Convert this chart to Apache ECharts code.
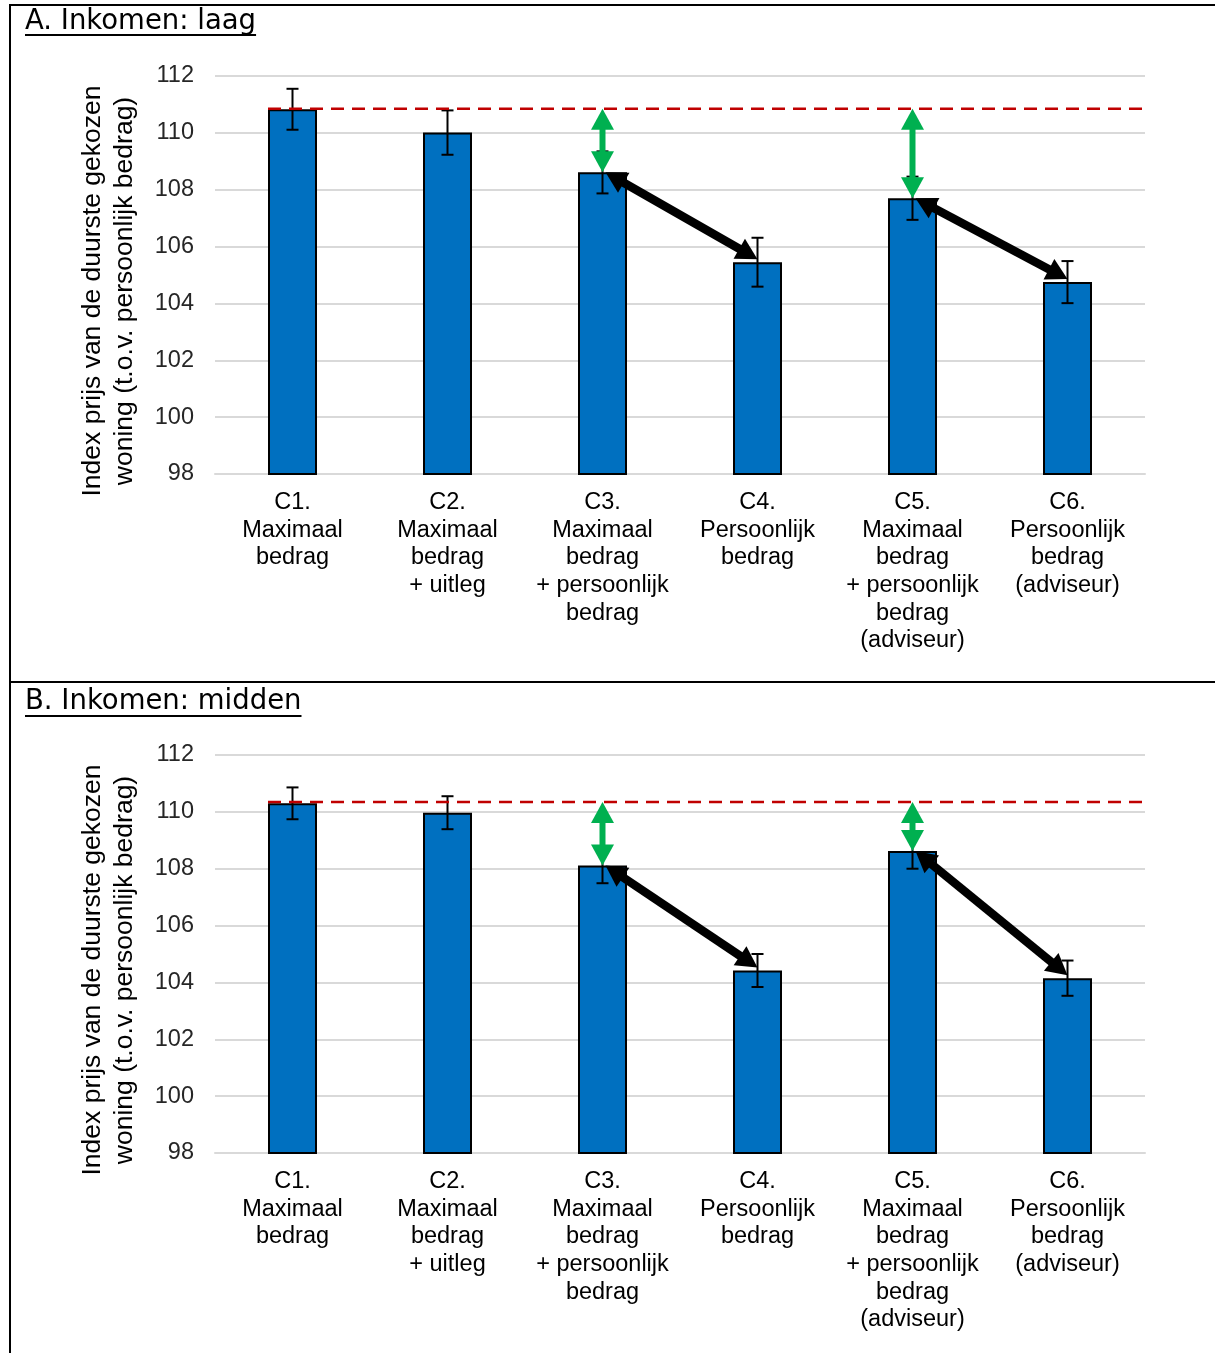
<!DOCTYPE html>
<html><head><meta charset="utf-8">
<script src="https://cdn.jsdelivr.net/npm/echarts/dist/echarts.min.js"></script>
<style>html,body{margin:0;padding:0;background:#fff}#c{width:1215px;height:1353px}</style>
</head><body><div id="c"></div>
<script>
// ---------- data ----------
const categories = [
  'C1.\nMaximaal\nbedrag',
  'C2.\nMaximaal\nbedrag\n+ uitleg',
  'C3.\nMaximaal\nbedrag\n+ persoonlijk\nbedrag',
  'C4.\nPersoonlijk\nbedrag',
  'C5.\nMaximaal\nbedrag\n+ persoonlijk\nbedrag\n(adviseur)',
  'C6.\nPersoonlijk\nbedrag\n(adviseur)'
];
const lowValues = [110.83, 110.01, 108.61, 105.45, 107.70, 104.75];
const lowErrors = [0.72, 0.78, 0.74, 0.86, 0.76, 0.74];
const lowReference = 110.85;
const midValues = [110.30, 109.97, 108.11, 104.42, 108.62, 104.15];
const midErrors = [0.56, 0.58, 0.62, 0.58, 0.62, 0.62];
const midReference = 110.35;
const yMin = 98, yMax = 112, yStep = 2;
const greenArrowCats = [2, 4];
const blackArrowPairs = [[2, 3], [4, 5]];
const panelTitles = ['A. Inkomen: laag', 'B. Inkomen: midden'];
const yAxisName = 'Index prijs van de duurste gekozen\nwoning (t.o.v. persoonlijk bedrag)';

// ---------- helpers ----------
const BAR_W = 49;
function doubleArrow(x1, y1, x2, y2, shaftW, headL, headW, color) {
  const dx = x2 - x1, dy = y2 - y1, L = Math.hypot(dx, dy);
  const ux = dx / L, uy = dy / L, px = -uy, py = ux;
  const b1 = [x1 + ux * headL, y1 + uy * headL];
  const b2 = [x2 - ux * headL, y2 - uy * headL];
  const h = headW / 2;
  return [
    {type: 'line', shape: {x1: b1[0] - ux, y1: b1[1] - uy, x2: b2[0] + ux, y2: b2[1] + uy},
     style: {stroke: color, lineWidth: shaftW}},
    {type: 'polygon', shape: {points: [[x1, y1], [b1[0] + px * h, b1[1] + py * h], [b1[0] - px * h, b1[1] - py * h]]},
     style: {fill: color}},
    {type: 'polygon', shape: {points: [[x2, y2], [b2[0] + px * h, b2[1] + py * h], [b2[0] - px * h, b2[1] - py * h]]},
     style: {fill: color}}
  ];
}

function panelSeries(idx, vals, errs, ref) {
  return [
    {type: 'bar', xAxisIndex: idx, yAxisIndex: idx, data: vals, barWidth: BAR_W, silent: true,
     itemStyle: {color: '#0070C0', borderColor: '#000', borderWidth: 2}, z: 2},
    {type: 'custom', xAxisIndex: idx, yAxisIndex: idx, silent: true, z: 5,
     data: vals.map((v, i) => [i, v - errs[i], v + errs[i]]),
     renderItem(params, api) {
       const lo = api.coord([api.value(0), api.value(1)]);
       const hi = api.coord([api.value(0), api.value(2)]);
       const w = 6, st = {stroke: '#000', lineWidth: 2};
       return {type: 'group', children: [
         {type: 'line', shape: {x1: lo[0], y1: lo[1], x2: hi[0], y2: hi[1]}, style: st},
         {type: 'line', shape: {x1: lo[0] - w, y1: lo[1], x2: lo[0] + w, y2: lo[1]}, style: st},
         {type: 'line', shape: {x1: hi[0] - w, y1: hi[1], x2: hi[0] + w, y2: hi[1]}, style: st}
       ]};
     }},
    {type: 'custom', xAxisIndex: idx, yAxisIndex: idx, silent: true, z: 6,
     data: [[0, ref]],
     renderItem(params, api) {
       const p = api.coord([api.value(0), api.value(1)]);
       const right = params.coordSys.x + params.coordSys.width + 4;
       return {type: 'line', shape: {x1: p[0] - BAR_W / 2, y1: p[1], x2: right, y2: p[1]},
               style: {stroke: '#C00000', lineWidth: 2.5, lineDash: [13, 8]}};
     }},
    {type: 'custom', xAxisIndex: idx, yAxisIndex: idx, silent: true, z: 7,
     data: greenArrowCats.map(i => [i, ref, vals[i]]),
     renderItem(params, api) {
       const a = api.coord([api.value(0), api.value(1)]);
       const b = api.coord([api.value(0), api.value(2)]);
       return {type: 'group', children: doubleArrow(a[0], a[1], b[0], b[1], 6, 21, 23, '#00B050')};
     }},
    {type: 'custom', xAxisIndex: idx, yAxisIndex: idx, silent: true, z: 8,
     data: blackArrowPairs.map(([f, t]) => [f, vals[f], t, vals[t]]),
     renderItem(params, api) {
       const a = api.coord([api.value(0), api.value(1)]);
       const b = api.coord([api.value(2), api.value(3)]);
       return {type: 'group', children: doubleArrow(a[0] + 3, a[1], b[0], b[1] - 3, 8.5, 21, 23, '#000')};
     }}
  ];
}

function xAxisCfg(idx) {
  return {type: 'category', gridIndex: idx, data: categories,
    axisTick: {show: false},
    axisLine: {show: true, lineStyle: {color: '#d9d9d9', width: 2}},
    axisLabel: {interval: 0, fontSize: 23.5, lineHeight: 27.6, color: '#000', margin: 15,
                fontFamily: '"Liberation Sans", Arial, sans-serif'}};
}
function yAxisCfg(idx) {
  return {type: 'value', gridIndex: idx, min: yMin, max: yMax, interval: yStep,
    axisLine: {show: false}, axisTick: {show: false},
    axisLabel: {fontSize: 23.5, color: '#262626', margin: 21, fontFamily: '"Liberation Sans", Arial, sans-serif'},
    splitLine: {lineStyle: {color: '#d9d9d9', width: 2}},
    name: yAxisName, nameLocation: 'middle', nameRotate: 90, nameGap: 74,
    nameTextStyle: {fontSize: 26.5, lineHeight: 32, color: '#000', fontFamily: '"Liberation Sans", Arial, sans-serif',
                    padding: [0, 32, 0, 0]}};
}

// title graphics
const titleFont = '27.5px "DejaVu Sans"';
const mctx = document.createElement('canvas').getContext('2d');
mctx.font = titleFont;
function titleGraphic(text, cy, uy) {
  const w = mctx.measureText(text).width;
  return [
    {type: 'text', x: 25, y: cy, z: 20, style: {text: text, font: titleFont, fill: '#000',
      textVerticalAlign: 'middle', verticalAlign: 'middle'}},
    {type: 'rect', x: 25, y: uy, z: 20, shape: {x: 0, y: 0, width: w, height: 2}, style: {fill: '#000'}}
  ];
}

const chart = echarts.init(document.getElementById('c'), null, {renderer: 'canvas'});
chart.setOption({
  backgroundColor: '#fff',
  animation: false,
  grid: [
    {left: 215, top: 76, width: 930, height: 398},
    {left: 215, top: 755, width: 930, height: 398}
  ],
  xAxis: [xAxisCfg(0), xAxisCfg(1)],
  yAxis: [yAxisCfg(0), yAxisCfg(1)],
  series: [...panelSeries(0, lowValues, lowErrors, lowReference),
           ...panelSeries(1, midValues, midErrors, midReference)],
  graphic: [
    {type: 'rect', shape: {x: 9, y: 4, width: 1210, height: 2}, style: {fill: '#000'}, z: 20},
    {type: 'rect', shape: {x: 9, y: 4, width: 2, height: 1360}, style: {fill: '#000'}, z: 20},
    {type: 'rect', shape: {x: 9, y: 681, width: 1210, height: 2}, style: {fill: '#000'}, z: 20},
    ...titleGraphic(panelTitles[0], 22, 34),
    ...titleGraphic(panelTitles[1], 702, 715)
  ]
});
</script></body></html>
